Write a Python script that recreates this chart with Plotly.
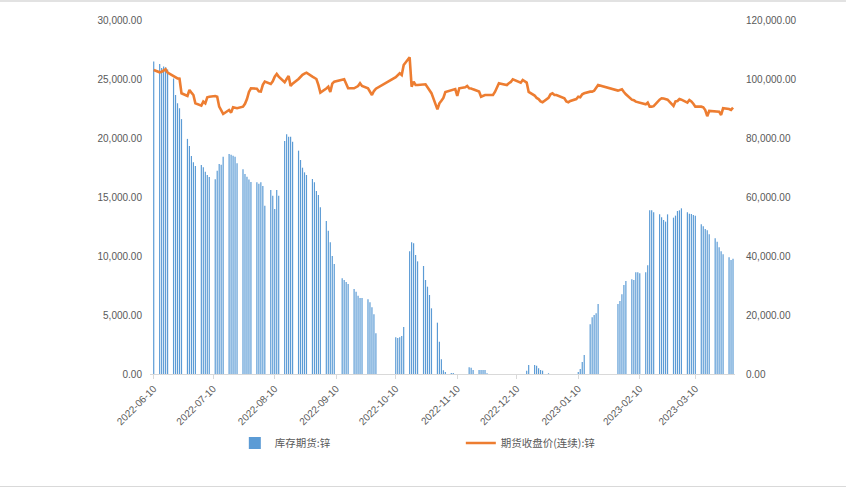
import pandas as pd
import plotly.graph_objects as go

# ---- trading days (SHFE calendar) ----
holidays = ["2022-09-12", "2022-10-03", "2022-10-04", "2022-10-05", "2022-10-06",
            "2022-10-07", "2023-01-02", "2023-01-23", "2023-01-24", "2023-01-25",
            "2023-01-26", "2023-01-27"]
days = pd.bdate_range("2022-06-10", "2023-03-29")
days = days[~days.isin(pd.to_datetime(holidays))]

# ---- 库存期货:锌 (right axis) ----
stock_jun = [105900, 105100, 103700, 104200, 104000, 103200, 100200, 94600, 91800, 90100,
             86400, 79700, 77300, 73900, 71800]
stock_jul = [70500, 70850, 70060, 68590, 67460, 66780, 66000, 68930, 71190, 70960, 73680,
             74580, 74360, 74000, 73680, 71420, 69400, 67800, 66880, 65900, 65050]
stock_aug = [65000, 64500, 65000, 63700, 57060, 62380, 60460, 55940, 62380, 60460, 78990,
             81250, 80460, 80460, 78760, 75710, 72540, 69940, 68360, 67460, 66100, 65000, 62040]
stock_sep = [60680, 56500, 51870, 48590, 44630, 40000, 37290, 32440, 31870, 31190, 30510,
             28820, 27900, 26550, 25760, 25760, 25310, 24300, 22600, 20230, 13790]
stock_oct = [12430, 12200, 12430, 12880, 15930, 41600, 44630, 44290, 40340, 38190, 36610,
             31870, 29600, 26780, 22260, 17400]
stock_nov = [10960, 4970, 1250, 680, 300, 300, 0, 0, 0, 0, 0, 2260, 2100, 1360, 1360, 1360,
             1360, 1360, 240, 0, 0, 0]
stock_dec = [0, 0, 0, 0, 0, 0, 0, 0, 0, 0, 1130, 3050, 3050, 2820, 1920, 1360, 1130, 240,
             0, 0, 0, 0]
stock_jan = [0, 0, 0, 0, 0, 680, 1700, 4070, 6440, 16840, 19200, 20000, 20560, 23730,
             23730, 24750]
stock_feb = [27010, 30170, 31530, 32100, 31900, 34470, 34470, 34130, 34470, 36840, 55480,
             55480, 54800, 54120, 53120, 52200, 51640, 54120, 53000, 53680]
stock_mar = [55260, 55480, 56160, 54800, 54360, 54240, 53900, 53680, 50760, 50080, 49160,
             48720, 47360, 46000, 44850, 42960, 41600, 40580, 39560, 38640, 39080]

# ---- 期货收盘价(连续):锌 (left axis) ----
price_jun = [25760, 25570, 25620, 25700, 25820, 25540, 25250, 25110, 25050, 25030, 23790,
             23560, 24070, 23850, 23645]
price_jul = [22940, 22740, 23080, 22940, 23450, 23500, 23560, 23500, 22655, 22300, 22035,
             22370, 22150, 22600, 22560, 22520, 22655, 22900, 23300, 23900, 24210]
price_aug = [24180, 23960, 23930, 24500, 24775, 24580, 24800, 25200, 25425, 25200, 24720,
             25000, 25255, 24410, 24600, 25000, 25200, 25350, 25450, 25530, 25200, 25100, 25000]
price_sep = [24500, 23845, 24200, 24350, 23900, 24600, 24775, 24900, 24975, 24600, 24210,
             24210, 24300, 24400, 24640, 24410, 24210, 23900, 23645, 23980, 24180]
price_oct = [25150, 25300, 25480, 25340, 26190, 26840, 24350, 24775, 24490, 24490, 24490,
             24550, 24300, 24000, 23800, 22430]
price_nov = [22940, 23160, 23400, 23900, 24070, 24100, 24150, 23560, 24210, 24300, 24410,
             24210, 24200, 24125, 23930, 23500, 23600, 23645, 23645, 23645, 23900, 24300]
price_dec = [24640, 24600, 24490, 24640, 24750, 24975, 24900, 24690, 24920, 24830, 24700,
             23900, 23600, 23400, 23300, 23100, 23025, 23400, 23700, 23790, 23645, 23645]
price_jan = [23365, 23100, 23025, 23140, 23300, 23500, 23450, 23700, 23790, 23930, 23930,
             24000, 24210, 24490, 24015, 24100]
price_feb = [24125, 23900, 23700, 23250, 23200, 23080, 23025, 22950, 22850, 22995, 22655,
             22655, 22700, 23250, 23365, 23350, 23330, 23250, 22713, 23100]
price_mar = [23137, 23306, 23250, 23000, 23220, 23100, 22900, 22655, 22655, 22600, 22374,
             21850, 22290, 22230, 22260, 22230, 21950, 22520, 22460, 22374, 22570]

stock = (stock_jun + stock_jul + stock_aug + stock_sep + stock_oct + stock_nov + stock_dec
         + stock_jan + stock_feb + stock_mar)
price = (price_jun + price_jul + price_aug + price_sep + price_oct + price_nov + price_dec
         + price_jan + price_feb + price_mar)
n = min(len(days), len(stock), len(price))
days, stock, price = days[:n], stock[:n], price[:n]

tick_dates = ["2022-06-10", "2022-07-10", "2022-08-10", "2022-09-10", "2022-10-10",
              "2022-11-10", "2022-12-10", "2023-01-10", "2023-02-10", "2023-03-10"]

DAY_MS = 86400000
GREY = "#595959"
NUMFONT = "Liberation Sans, Arial, sans-serif"
CJK = "Noto Sans CJK SC, sans-serif"

fig = go.Figure()
fig.add_trace(go.Bar(
    x=days, y=stock, name="库存期货:锌", yaxis="y",
    marker=dict(color="#5B9BD5", line=dict(width=0)),
    width=0.6 * DAY_MS,
))
fig.add_trace(go.Scatter(
    x=days, y=price, name="期货收盘价(连续):锌", yaxis="y2",
    mode="lines", line=dict(color="#ED7D31", width=2.6),
))

fig.update_layout(
    width=846, height=489, autosize=False,
    margin=dict(l=150, r=111, t=20, b=115),
    paper_bgcolor="white", plot_bgcolor="white",
    bargap=0.1,
    showlegend=True,
    legend=dict(orientation="h", x=0.145, xanchor="left", y=-0.195, yanchor="middle",
                entrywidth=181, entrywidthmode="pixels",
                font=dict(family=CJK, size=10.5, color=GREY),
                bgcolor="rgba(0,0,0,0)", itemclick=False),
    xaxis=dict(
        type="date",
        range=["2022-06-08 03:00", "2023-03-30 00:00"],
        tickvals=tick_dates, ticktext=tick_dates, tickangle=-45,
        ticks="outside", ticklen=4, tickcolor="#D9D9D9",
        showline=True, linecolor="#D9D9D9", linewidth=1,
        showgrid=False, zeroline=False,
        tickfont=dict(family=NUMFONT, size=10, color=GREY),
    ),
    yaxis=dict(
        side="right", range=[0, 120000], tickvals=list(range(0, 120001, 20000)),
        tickformat=",.2f", showgrid=False, zeroline=False, showline=False,
        ticklabelstandoff=10,
        tickfont=dict(family=NUMFONT, size=10, color=GREY),
    ),
    yaxis2=dict(
        overlaying="y", side="left", range=[0, 30000], tickvals=list(range(0, 30001, 5000)),
        tickformat=",.2f", showgrid=False, zeroline=False, showline=False,
        ticklabelstandoff=7,
        tickfont=dict(family=NUMFONT, size=10, color=GREY),
    ),
    shapes=[
        dict(type="line", xref="paper", yref="paper", x0=-0.2564, x1=1.1897,
             y0=1.0537, y1=1.0537, line=dict(color="#D9D9D9", width=1.5)),
        dict(type="line", xref="paper", yref="paper", x0=-0.2564, x1=1.1897,
             y0=-0.3178, y1=-0.3178, line=dict(color="#D9D9D9", width=1)),
    ],
)

fig.write_html("out.html", config={"displayModeBar": False, "staticPlot": True},
               post_script="document.body.style.margin='0px';")
